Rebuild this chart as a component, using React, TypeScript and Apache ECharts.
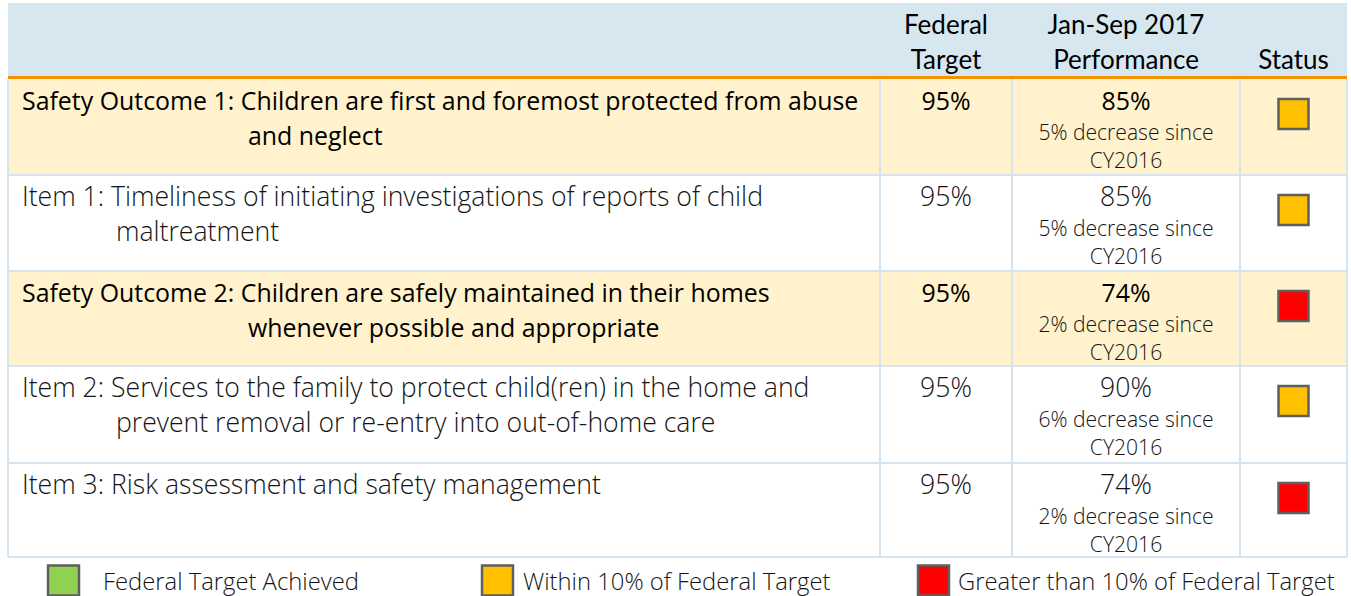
import React, { useEffect, useRef } from "react";
import * as echarts from "echarts";

// ---------- data ----------
const headerLines = [["Federal", "Target"], ["Jan-Sep 2017", "Performance"], ["Status"]];
const rowLabels = [
  ["Safety Outcome 1: Children are first and foremost protected from abuse", "and neglect"],
  ["Item 1: Timeliness of initiating investigations of reports of child", "maltreatment"],
  ["Safety Outcome 2: Children are safely maintained in their homes", "whenever possible and appropriate"],
  ["Item 2: Services to the family to protect child(ren) in the home and", "prevent removal or re-entry into out-of-home care"],
  ["Item 3: Risk assessment and safety management"],
];
const isOutcome = [true, false, true, false, false];
const federalTarget = ["95%", "95%", "95%", "95%", "95%"];
const performance = ["85%", "85%", "74%", "90%", "74%"];
const changeNotes = ["5% decrease since", "5% decrease since", "2% decrease since", "6% decrease since", "2% decrease since"];
const changeSince = ["CY2016", "CY2016", "CY2016", "CY2016", "CY2016"];
const statusKeys = ["within", "within", "greater", "within", "greater"];
const legendKeys = ["achieved", "within", "greater"];
const legendLabels = ["Federal Target Achieved", "Within 10% of Federal Target", "Greater than 10% of Federal Target"];

// ---------- styles ----------
const statusColor: Record<string, string> = { achieved: "#92d050", within: "#ffc000", greater: "#ff0000" };
const HEAD_FONT = "Lato, 'Open Sans', sans-serif";
const BODY_FONT = "'Open Sans', Lato, sans-serif";
const colX = [8, 880, 1012, 1240, 1347];
const rowY = [79, 175, 271, 366, 463, 557];
const HEADER_TOP = 3;
const BORDER = "#d5e4ee";
const legendBoxX = [48, 482, 918];
const legendTextX = [103, 523, 958];

// fit a font size so that a sample string reaches a given pixel width
function fitSize(sample: string, family: string, weight: number | string, width: number, fallback: number) {
  try {
    const ctx = document.createElement("canvas").getContext("2d");
    if (!ctx) return fallback;
    ctx.font = `${weight} 100px ${family}`;
    const w = ctx.measureText(sample).width;
    if (!w) return fallback;
    return Math.round((width / w) * 100 * 10) / 10;
  } catch (e) {
    return fallback;
  }
}

export default function App() {
  const ref = useRef<HTMLDivElement>(null);
  useEffect(() => {
    if (!ref.current) return;
    const chart = echarts.init(ref.current, undefined, { renderer: "svg" });
    const outSize = fitSize(rowLabels[0][0], BODY_FONT, 400, 838, 24);
    const itemSize = fitSize(rowLabels[1][0], BODY_FONT, 300, 740, 24);
    const noteSize = fitSize(changeNotes[0], BODY_FONT, 300, 175, 20);
    const legSize = fitSize(legendLabels[2], BODY_FONT, 300, 377, 23);

    const g: any[] = [];
    const L = colX[0];
    const R = colX[colX.length - 1];
    g.push({ type: "rect", shape: { x: L, y: HEADER_TOP, width: R - L, height: rowY[0] - HEADER_TOP }, style: { fill: "#d7e7f0" } });
    rowLabels.forEach((_, i) => {
      if (isOutcome[i]) {
        g.push({ type: "rect", shape: { x: L, y: rowY[i], width: R - L, height: rowY[i + 1] - rowY[i] }, style: { fill: "#fff2cc" } });
      }
    });
    for (let i = 1; i < rowY.length; i++) {
      g.push({ type: "line", shape: { x1: L, y1: rowY[i], x2: R, y2: rowY[i] }, style: { stroke: BORDER, lineWidth: 2 } });
    }
    colX.forEach((x) => {
      g.push({ type: "line", shape: { x1: x, y1: rowY[0], x2: x, y2: rowY[rowY.length - 1] }, style: { stroke: BORDER, lineWidth: 2 } });
    });
    g.push({ type: "rect", shape: { x: L, y: rowY[0] - 3, width: R - L, height: 3 }, style: { fill: "#f39200" } });

    const txt = (text: string, x: number, y: number, size: number, weight: any, family: string, align = "left", fill = "#000") => ({
      type: "text",
      x,
      y,
      style: { text, fontFamily: family, fontSize: size, fontWeight: weight, fill, align, verticalAlign: "middle" },
    });

    headerLines.forEach((lines, c) => {
      const cx = (colX[c + 1] + colX[c + 2]) / 2;
      const ys = lines.length === 2 ? [24, 59] : [59];
      lines.forEach((t, k) => g.push(txt(t, cx, ys[k], 26, "normal", HEAD_FONT, "center")));
    });

    const c1 = (colX[1] + colX[2]) / 2;
    const c2 = (colX[2] + colX[3]) / 2;
    const c3 = (colX[3] + colX[4]) / 2;
    rowLabels.forEach((lines, i) => {
      const top = rowY[i];
      const out = isOutcome[i];
      const w = out ? 400 : 300;
      const size = out ? outSize : itemSize;
      const col = out ? "#000" : "#141414";
      lines.forEach((t, k) => {
        const x = k === 0 ? 22 : out ? 248 : 116;
        g.push(txt(t, x, top + 21 + k * 35, size, w, BODY_FONT, "left", col));
      });
      g.push(txt(federalTarget[i], c1, top + 21, size, w, BODY_FONT, "center", col));
      g.push(txt(performance[i], c2, top + 21, size, w, BODY_FONT, "center", col));
      g.push(txt(changeNotes[i], c2, top + 52, noteSize, 300, BODY_FONT, "center", "#141414"));
      g.push(txt(changeSince[i], c2, top + 80, noteSize, 300, BODY_FONT, "center", "#141414"));
      g.push({
        type: "rect",
        shape: { x: c3 - 15, y: top + 20, width: 30, height: 30 },
        style: { fill: statusColor[statusKeys[i]], stroke: "#5f5f5f", lineWidth: 2.5 },
      });
    });

    legendKeys.forEach((k, i) => {
      g.push({
        type: "rect",
        shape: { x: legendBoxX[i], y: 565.5, width: 31, height: 30 },
        style: { fill: statusColor[k], stroke: "#5f5f5f", lineWidth: 2.5 },
      });
      g.push(txt(legendLabels[i], legendTextX[i], 581, legSize, 300, BODY_FONT, "left", "#141414"));
    });

    chart.setOption({ animation: false, backgroundColor: "#ffffff", graphic: { elements: g } });
    return () => chart.dispose();
  }, []);
  return <div ref={ref} style={{ position: "fixed", left: 0, top: 0, width: 1351, height: 596 }} />;
}
